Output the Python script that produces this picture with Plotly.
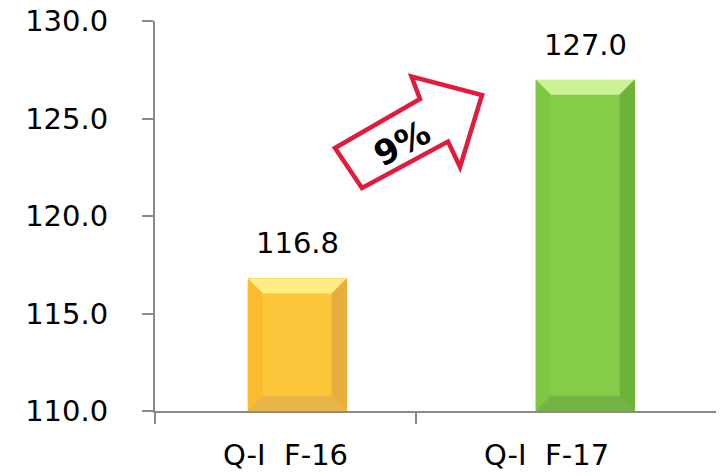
import plotly.graph_objects as go

# ---- data ----
categories = ["Q-I  F-16", "Q-I  F-17"]
values = [116.8, 127.0]
value_labels = ["116.8", "127.0"]
growth_label = "9%"
y_ticks = [110, 115, 120, 125, 130]
y_tick_labels = ["110.0", "115.0", "120.0", "125.0", "130.0"]

# ---- style ----
FONT = "DejaVu Sans"
AXIS_COLOR = "#8a8a8a"
face_colors = ["#FDC53A", "#85CC49"]
top_colors = ["#FFEC85", "#CBF396"]
left_colors = ["#FBBA2F", "#7DC743"]
right_colors = ["#E8AD3A", "#6EB239"]
bottom_colors = ["#E9B54A", "#74B446"]
bar_width = 0.38
bar_offsets = [-0.145, -0.042]
Y_MIN, Y_MAX = 110, 130
X_MIN, X_MAX = -0.5, 1.68
bevel_x = 0.058
bevel_y = 0.78
PAGE_OFF = 8  # default body margin of the html page
W, H = 724 - PAGE_OFF, 476 - PAGE_OFF
ML, MR, MT, MB = 155 - PAGE_OFF, 0, 21 - PAGE_OFF, 65

xs = list(range(len(categories)))

fig = go.Figure()
fig.add_trace(go.Bar(
    x=xs, y=values, width=bar_width, offset=bar_offsets,
    marker=dict(color=face_colors, line=dict(width=0)),
    hoverinfo="skip", showlegend=False,
))
# invisible trace on a second x-axis carrying the category labels
fig.add_trace(go.Scatter(x=xs, y=values, xaxis="x2", mode="markers",
                         marker=dict(opacity=0), hoverinfo="skip", showlegend=False))

shapes = []
for i, v in enumerate(values):
    l = xs[i] + bar_offsets[i]
    r = l + bar_width
    b = Y_MIN
    t = v
    def poly(pts, color):
        path = "M " + " L ".join(f"{px},{py}" for px, py in pts) + " Z"
        return dict(type="path", path=path, xref="x", yref="y",
                    fillcolor=color, line=dict(width=0), layer="above")
    shapes.append(poly([(l, t), (r, t), (r - bevel_x, t - bevel_y), (l + bevel_x, t - bevel_y)], top_colors[i]))
    shapes.append(poly([(l, t), (l + bevel_x, t - bevel_y), (l + bevel_x, b + bevel_y), (l, b)], left_colors[i]))
    shapes.append(poly([(r, t), (r, b), (r - bevel_x, b + bevel_y), (r - bevel_x, t - bevel_y)], right_colors[i]))
    shapes.append(poly([(l, b), (l + bevel_x, b + bevel_y), (r - bevel_x, b + bevel_y), (r, b)], bottom_colors[i]))

# growth arrow (decoration) in paper (plot-area) coordinates, given in page pixels
def P(px, py):
    px -= PAGE_OFF
    py -= PAGE_OFF
    return ((px - ML) / (W - ML - MR), (H - MB - py) / (H - MB - MT))
arrow_px = [(335, 148), (420, 99), (411.5, 76.5), (482, 95), (460, 167), (448, 141.5), (362, 188)]
pts = [P(*p) for p in arrow_px]
shapes.append(dict(type="path", xref="paper", yref="paper",
                   path="M " + " L ".join(f"{a:.5f},{b:.5f}" for a, b in pts) + " Z",
                   fillcolor="white", line=dict(color="#E01B3C", width=4.5), layer="above"))

annotations = []
for i, v in enumerate(values):
    cx = xs[i] + bar_offsets[i] + bar_width / 2
    annotations.append(dict(x=cx, y=v, xref="x", yref="y", text=value_labels[i],
                            showarrow=False, yanchor="bottom", yshift=16,
                            font=dict(family=FONT, size=29, color="#000000")))
ax, ay = P(402, 143)
annotations.append(dict(x=ax, y=ay, xref="paper", yref="paper",
                        text=f"<b>{growth_label}</b>", showarrow=False, textangle=-28,
                        xanchor="center", yanchor="middle",
                        font=dict(family=FONT, size=34, color="#000000")))

fig.update_layout(
    width=W, height=H,
    margin=dict(l=ML, r=MR, t=MT, b=MB, autoexpand=False),
    paper_bgcolor="white", plot_bgcolor="white",
    bargap=0,
    shapes=shapes, annotations=annotations,
    xaxis=dict(range=[X_MIN, X_MAX], tickmode="array", tickvals=[-0.5, 0.5], ticktext=["", ""],
               ticks="outside", ticklen=11, tickwidth=2, tickcolor=AXIS_COLOR,
               showline=True, linecolor=AXIS_COLOR, linewidth=2, showgrid=False, zeroline=False,
               automargin=False, fixedrange=True),
    xaxis2=dict(overlaying="x", matches="x", anchor="y", side="bottom",
                tickmode="array", tickvals=xs, ticktext=categories, ticks="",
                showline=False, showgrid=False, zeroline=False, ticklabelstandoff=24,
                automargin=False, ticklabeloverflow="allow",
                tickfont=dict(family=FONT, size=29, color="#000000")),
    yaxis=dict(range=[Y_MIN, Y_MAX], tickmode="array", tickvals=y_ticks, ticktext=y_tick_labels,
               ticks="outside", ticklen=11, tickwidth=2, tickcolor=AXIS_COLOR,
               showline=True, linecolor=AXIS_COLOR, linewidth=2, showgrid=False, zeroline=False,
               automargin=False, ticklabelstandoff=28, ticklabeloverflow="allow",
               tickfont=dict(family=FONT, size=29, color="#000000")),
)

fig.write_html("out.html")
